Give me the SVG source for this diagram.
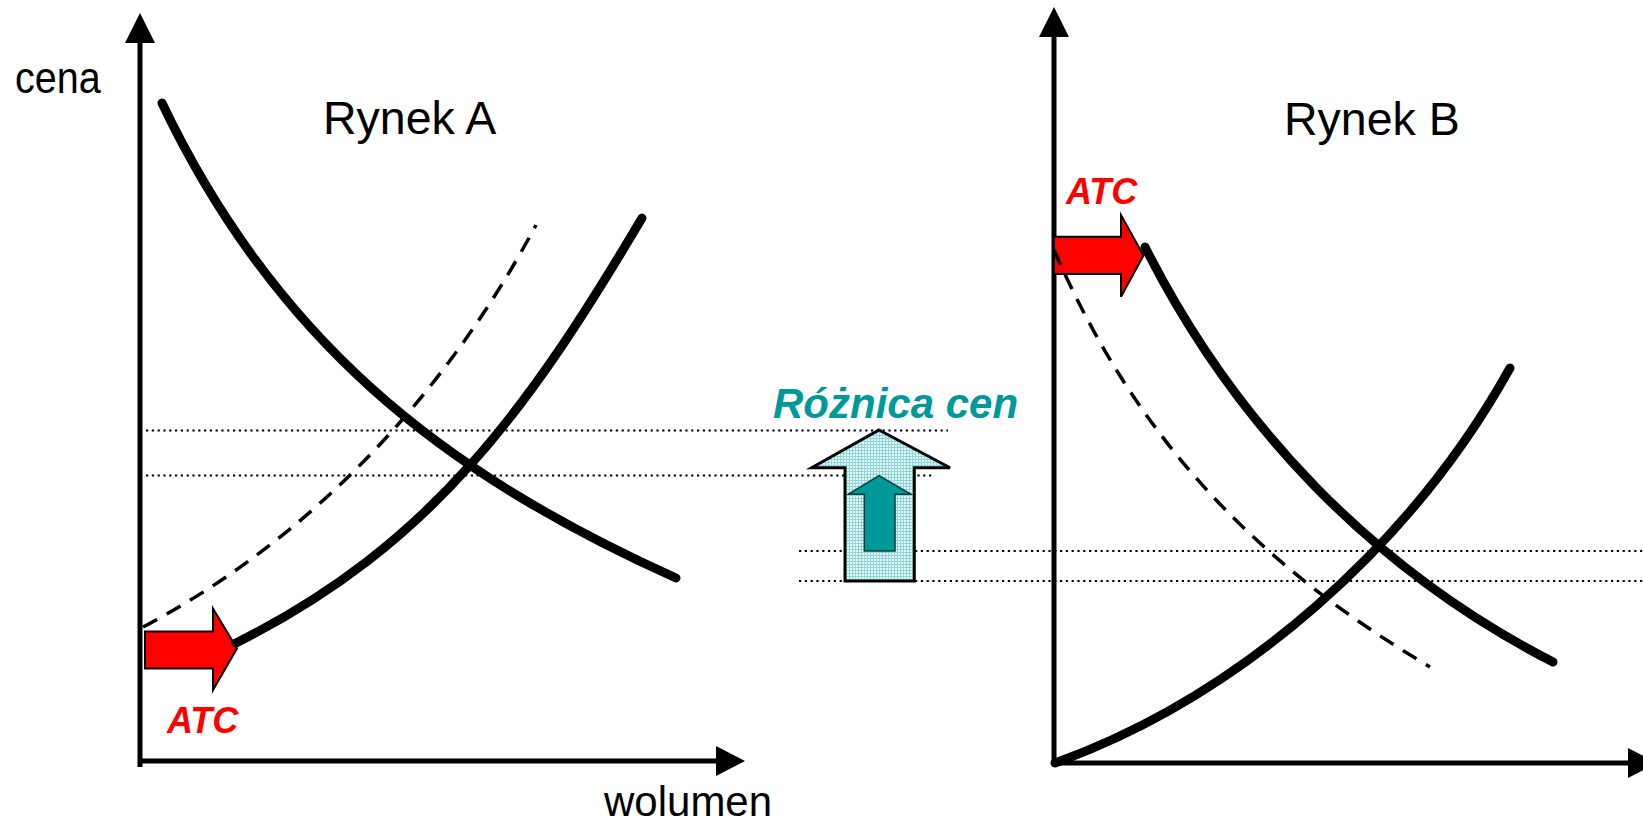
<svg xmlns="http://www.w3.org/2000/svg" width="1643" height="823" viewBox="0 0 1643 823">
<style>
.axis{stroke:#000;stroke-width:5;fill:none}
.head{fill:#000}
.thick{stroke:#000;stroke-width:9;fill:none;stroke-linecap:round;stroke-linejoin:round}
.dash{stroke:#000;stroke-width:3.5;fill:none;stroke-dasharray:16 11}
.dot{stroke:#000;stroke-width:2;fill:none;stroke-dasharray:2.2 3.6}
.red{fill:#FF0000;stroke:#000;stroke-width:2;stroke-linejoin:miter}
.lbl{font-family:"Liberation Sans",Arial,sans-serif;fill:#000}
.atc{font-family:"Liberation Sans",Arial,sans-serif;font-weight:bold;font-style:italic;font-size:36px;fill:#FF0000}
.diff{font-family:"Liberation Sans",Arial,sans-serif;font-weight:bold;font-style:italic;font-size:42px;fill:#009999}
</style>
<defs>
<pattern id="dots" width="3" height="3" patternUnits="userSpaceOnUse">
<rect width="3" height="3" fill="#e4f6f6"/>
<rect x="0" y="0" width="1" height="3" fill="#8fd4d4"/>
<rect x="0" y="0" width="3" height="1" fill="#8fd4d4"/>
</pattern>
</defs>
<rect width="1643" height="823" fill="#fff"/>

<g id="guides">
<line class="dot" x1="146" y1="430.5" x2="948" y2="430.5"/>
<line class="dot" x1="146" y1="475.5" x2="933" y2="475.5"/>
<line class="dot" x1="799" y1="551" x2="1643" y2="551"/>
<line class="dot" x1="799" y1="581" x2="1643" y2="581"/>
</g>

<g id="axes-a">
<line class="axis" x1="140" y1="767" x2="140" y2="40"/>
<polygon class="head" points="140,13 125,43 155,43"/>
<line class="axis" x1="138" y1="761" x2="718" y2="761"/>
<polygon class="head" points="745,761 716,746 716,776"/>
</g>

<g id="axes-b">
<line class="axis" x1="1054" y1="765" x2="1054" y2="35"/>
<polygon class="head" points="1054,7 1039,37 1069,37"/>
<line class="axis" x1="1052" y1="763" x2="1630" y2="763"/>
<polygon class="head" points="1657,763 1628,748 1628,778"/>
</g>

<g id="atc-arrow-a">
<polygon class="red" points="145,631.5 213,631.5 213,608.5 237,648.5 213,690 213,668.5 145,668.5"/>
</g>
<g id="atc-arrow-b">
<polygon class="red" points="1054,236.7 1121,236.7 1121,215 1143.5,255.5 1121,296.7 1121,274 1054,274"/>
</g>

<g id="curves">
<path id="demand-a" class="thick" d="M162,103 C273.8,337.8 438.9,471.4 676,578"/>
<path id="supply-a" class="thick" d="M236,643 C432.7,544.7 529.8,407.2 642,218"/>
<path id="supply-a-old" class="dash" d="M143,627 C311.2,538.7 446.7,392.8 536,225"/>
<path id="demand-b" class="thick" d="M1145,247 C1235,425.6 1375,570.8 1553,662"/>
<path id="demand-b-old" class="dash" d="M1054,250 C1136,438 1253.7,562.5 1430,667"/>
<path id="supply-b" class="thick" d="M1055,763 C1243.2,695.2 1412.8,542.8 1510,368"/>
</g>

<g id="price-diff">
<polygon points="879,430 950,467.7 914.3,467.7 914.3,581 845,581 845,467.7 811.7,467.7" fill="url(#dots)" stroke="#000" stroke-width="3" stroke-linejoin="miter"/>
<polygon points="879,475.7 911,494.3 895,494.3 895,551 864.3,551 864.3,494.3 848.3,494.3" fill="#009999" stroke="#0b3b3b" stroke-width="1.5"/>
</g>

<g id="labels">
<text class="lbl" font-size="39.5" transform="translate(15,93) scale(1,1.1)">cena</text>
<text class="lbl" x="323" y="134" font-size="46.5">Rynek A</text>
<text class="lbl" x="1284" y="135" font-size="46.5">Rynek B</text>
<text class="lbl" x="604" y="816" font-size="42">wolumen</text>
<text class="atc" x="167" y="732.7">ATC</text>
<text class="atc" x="1066" y="204">ATC</text>
<text class="diff" x="773" y="418">Różnica cen</text>
</g>
</svg>
